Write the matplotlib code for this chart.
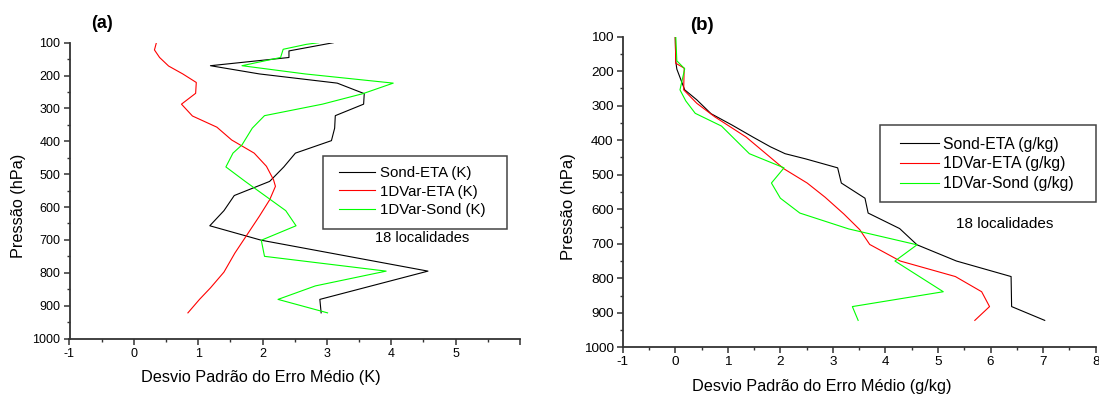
import matplotlib
matplotlib.use("Agg")
import matplotlib.pyplot as plt
from matplotlib.patches import Rectangle
from matplotlib.ticker import MultipleLocator

plt.rcParams['font.family'] = ['Liberation Sans', 'DejaVu Sans']

W, H = 1099, 395

# ---- panel (a): temperature (K) ----
a_sond_eta_p = [100, 125, 145, 170, 195, 223, 255, 287, 322, 360, 398, 436, 478, 522, 565,
                611, 657, 701, 795, 881, 922]
a_sond_eta = [3.10, 2.41, 2.41, 1.19, 1.95, 3.16, 3.58, 3.57, 3.13, 3.12, 3.07, 2.51, 2.33, 2.11,
              1.56, 1.40, 1.18, 1.98, 4.57, 2.89, 2.91]

a_var_eta_p = [100, 122, 145, 171, 195, 221, 254, 287, 323, 357, 396, 436, 476, 517, 537, 578,
               628, 684, 740, 798, 846, 881, 922]
a_var_eta = [0.35, 0.32, 0.40, 0.54, 0.76, 0.97, 0.96, 0.74, 0.91, 1.29, 1.52, 1.87, 2.06, 2.17,
             2.20, 2.11, 1.95, 1.76, 1.57, 1.40, 1.19, 1.02, 0.84]

a_var_sond_p = [100, 105, 120, 145, 170, 195, 223, 255, 287, 322, 360, 411, 436, 478, 522, 611,
                657, 701, 750, 795, 840, 881, 922]
a_var_sond = [2.87, 2.68, 2.32, 2.28, 1.68, 2.66, 4.03, 3.56, 2.93, 2.03, 1.84, 1.68, 1.54, 1.43,
              1.73, 2.36, 2.52, 1.98, 2.03, 3.92, 2.82, 2.24, 3.01]

# ---- panel (b): humidity (g/kg) ----
b_sond_eta_p = [100, 172, 194, 254, 283, 323, 356, 391, 419, 439, 454, 480, 524, 568, 611, 656,
                703, 750, 795, 882, 922]
b_sond_eta = [0.00, 0.01, 0.03, 0.18, 0.41, 0.68, 1.08, 1.48, 1.81, 2.09, 2.48, 3.09, 3.16, 3.61,
              3.67, 4.27, 4.60, 5.35, 6.39, 6.40, 7.03]

b_var_eta_p = [100, 177, 191, 254, 293, 332, 391, 483, 524, 565, 614, 659, 702, 750, 795, 839,
               882, 922]
b_var_eta = [0.00, 0.01, 0.17, 0.16, 0.41, 0.75, 1.35, 2.07, 2.51, 2.85, 3.21, 3.51, 3.70, 4.28,
             5.33, 5.83, 5.98, 5.70]

b_var_sond_p = [100, 170, 193, 254, 286, 322, 359, 439, 480, 524, 568, 611, 657, 703, 750, 839,
                882, 922]
b_var_sond = [0.01, 0.03, 0.18, 0.09, 0.20, 0.38, 0.88, 1.41, 2.07, 1.83, 2.00, 2.37, 3.30, 4.60,
              4.18, 5.10, 3.37, 3.48]

a_labels = ['Sond-ETA (K)', '1DVar-ETA (K)', '1DVar-Sond (K)']
b_labels = ['Sond-ETA (g/kg)', '1DVar-ETA (g/kg)', '1DVar-Sond (g/kg)']
colors = ['#000000', '#ff0000', '#00ff00']


def fx(px):
    return px / W


def fy(py):
    return 1 - py / H


def box(l, r, t, b):
    return [fx(l), fy(b), fx(r) - fx(l), fy(t) - fy(b)]


def style_axis(ax, xmax, fs, xtick_hide=()):
    ax.set_ylim(1000, 100)
    ax.set_xlim(-1, xmax)
    ax.spines['top'].set_visible(False)
    ax.spines['right'].set_visible(False)
    for s in ('left', 'bottom'):
        ax.spines[s].set_linewidth(1.3)
        ax.spines[s].set_color('#333333')
    ax.yaxis.set_major_locator(MultipleLocator(100))
    ax.yaxis.set_minor_locator(MultipleLocator(50))
    ax.xaxis.set_major_locator(MultipleLocator(1))
    ax.xaxis.set_minor_locator(MultipleLocator(0.5))
    ax.tick_params(which='major', direction='out', length=4.5, width=1.1, labelsize=fs,
                   color='#333333', pad=2)
    ax.tick_params(which='minor', direction='out', length=2.5, width=1.0, color='#333333')
    ticks = list(range(-1, int(xmax) + 1))
    ax.set_xticks(ticks)
    ax.set_xticklabels(['' if t in xtick_hide else str(t) for t in ticks])


fig = plt.figure(figsize=(W / 100, H / 100), dpi=100)

# panel (a)
ax1 = fig.add_axes(box(69.5, 520, 42.7, 338.5))
ax1.plot(a_sond_eta, a_sond_eta_p, color=colors[0], lw=0.8, label=a_labels[0])
ax1.plot(a_var_eta, a_var_eta_p, color=colors[1], lw=0.8, label=a_labels[1])
ax1.plot(a_var_sond, a_var_sond_p, color=colors[2], lw=0.8, label=a_labels[2])
style_axis(ax1, 6, 9, xtick_hide=(6,))
fig.text(fx(101.7), fy(24), '(a)', fontsize=13, fontweight='bold', ha='center', va='center')
fig.text(fx(18.3), fy(206), 'Pressão (hPa)', fontsize=11.7, rotation=90, ha='center', va='center')
fig.text(fx(261), fy(377.7), 'Desvio Padrão do Erro Médio (K)', fontsize=11.7,
         ha='center', va='center')
fig.patches.append(Rectangle((fx(322.7), fy(229)), fx(506.7) - fx(322.7), fy(155.7) - fy(229),
                             transform=fig.transFigure, fill=False, ec='#444444', lw=1.1))
ax1.legend(frameon=False, loc='upper left', bbox_to_anchor=(fx(339), fy(166.5)),
           bbox_transform=fig.transFigure, borderpad=0, borderaxespad=0, fontsize=10.8,
           handlelength=2.4, handletextpad=0.33, labelspacing=0.28)
fig.text(fx(422), fy(238.3), '18 localidades', fontsize=10.5, ha='center', va='center')

# panel (b)
ax2 = fig.add_axes(box(622.7, 1095.7, 36.7, 347.3))
ax2.plot(b_sond_eta, b_sond_eta_p, color=colors[0], lw=0.8, label=b_labels[0])
ax2.plot(b_var_eta, b_var_eta_p, color=colors[1], lw=0.8, label=b_labels[1])
ax2.plot(b_var_sond, b_var_sond_p, color=colors[2], lw=0.8, label=b_labels[2])
style_axis(ax2, 8, 9.7)
fig.text(fx(702.4), fy(25), '(b)', fontsize=13.5, fontweight='bold', ha='center', va='center')
fig.text(fx(569), fy(207), 'Pressão (hPa)', fontsize=12, rotation=90, ha='center', va='center')
fig.text(fx(822), fy(386.7), 'Desvio Padrão do Erro Médio (g/kg)', fontsize=11.7,
         ha='center', va='center')
fig.patches.append(Rectangle((fx(880.4), fy(201.7)), fx(1096) - fx(880.4), fy(125.3) - fy(201.7),
                             transform=fig.transFigure, fill=False, ec='#444444', lw=1.1))
ax2.legend(frameon=False, loc='upper left', bbox_to_anchor=(fx(899.5), fy(136.5)),
           bbox_transform=fig.transFigure, borderpad=0, borderaxespad=0, fontsize=11.3,
           handlelength=2.5, handletextpad=0.27, labelspacing=0.31)
fig.text(fx(1004.8), fy(224), '18 localidades', fontsize=11, ha='center', va='center')

fig.savefig('out.png', dpi=100)
